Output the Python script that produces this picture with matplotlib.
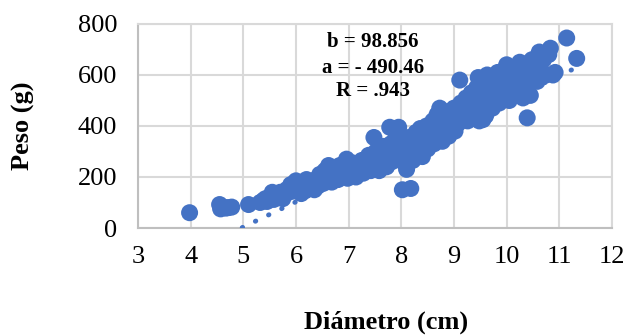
import matplotlib.pyplot as plt
import numpy as np

# diameter (cm) and weight (g)
diametro = [3.98, 4.55, 4.57, 4.62, 4.67, 4.72, 4.78, 5.10,
            5.32, 5.38, 5.42, 5.45, 5.50, 5.55, 5.58, 5.62, 5.66, 5.70, 5.74, 5.78,
            5.82, 5.86, 5.90, 5.95, 5.98, 6.02, 6.05, 6.08, 6.12, 6.15, 6.18, 6.22,
            6.25, 6.30, 6.34, 6.38, 6.42, 6.46, 6.50, 6.52, 6.55, 6.58, 6.62, 6.65,
            6.68, 6.70, 6.73, 6.76, 6.80, 6.83, 6.86, 6.90, 6.93, 6.96, 6.98, 7.02,
            7.05, 7.08, 7.10, 7.14, 7.18, 7.22, 7.25, 7.28, 7.32, 7.35, 7.38, 7.42,
            7.45, 7.48, 7.50, 7.52, 7.55, 7.58, 7.60, 7.63, 7.66, 7.68, 7.72, 7.75,
            7.78, 7.80, 7.82, 7.85, 7.88, 7.92, 7.95, 7.97, 8.00, 8.02, 8.03, 8.06,
            8.08, 8.10, 8.12, 8.15, 8.18, 8.20, 8.22, 8.25, 8.28, 8.30, 8.33, 8.36,
            8.40, 8.42, 8.45, 8.48, 8.50, 8.53, 8.56, 8.60, 8.62, 8.65, 8.68, 8.70,
            8.73, 8.75, 8.78, 8.80, 8.83, 8.86, 8.90, 8.93, 8.96, 9.00, 9.02, 9.05,
            9.08, 9.11, 9.13, 9.16, 9.20, 9.23, 9.26, 9.30, 9.33, 9.36, 9.40, 9.43,
            9.46, 9.48, 9.50, 9.53, 9.56, 9.60, 9.63, 9.66, 9.70, 9.73, 9.76, 9.80,
            9.83, 9.86, 9.90, 9.93, 9.96, 10.00, 10.02, 10.05, 10.08, 10.12, 10.15,
            10.18, 10.22, 10.25, 10.28, 10.31, 10.34, 10.37, 10.39, 10.42, 10.45,
            10.48, 10.52, 10.55, 10.58, 10.62, 10.65, 10.70, 10.75, 10.80, 10.83,
            10.88, 10.92, 11.14, 11.33,
            5.55, 5.75, 5.90, 6.00, 6.10, 6.20, 6.35, 6.45, 9.55, 9.45]
peso = [60, 92, 75, 82, 78, 80, 82, 92,
        100, 108, 115, 104, 118, 125, 112, 130, 122, 140, 128, 135,
        150, 140, 155, 145, 162, 150, 172, 158, 165, 178, 148, 170,
        160, 182, 172, 190, 165, 185, 200, 175, 225, 190, 245, 210,
        180, 235, 200, 220, 190, 245, 205, 230, 215, 270, 195, 240,
        210, 255, 225, 200, 245, 230, 265, 215, 250, 235, 285, 225,
        270, 355, 240, 300, 260, 225, 285, 250, 320, 270, 240, 300,
        395, 330, 260, 290, 345, 275, 395, 310, 360, 150, 260, 300,
        330, 230, 280, 355, 155, 310, 265, 340, 375, 295, 320, 390,
        280, 350, 330, 400, 310, 370, 345, 420, 330, 385, 445, 360,
        470, 400, 340, 420, 380, 455, 360, 430, 400, 470, 380, 440,
        410, 580, 490, 430, 460, 510, 420, 475, 530, 445, 500, 550,
        590, 420, 470, 520, 560, 440, 600, 500, 545, 470, 580, 520,
        610, 490, 560, 530, 620, 640, 545, 500, 590, 560, 615,
        520, 580, 650, 545, 510, 600, 630, 432, 570, 520,
        660, 600, 640, 575, 690, 620, 660, 600, 680, 705,
        600, 610, 745, 665,
        140, 115, 170, 185, 135, 190, 150, 210, 425, 440]

# linear fit shown on the chart
b = 98.856
a = -490.46

plt.rcParams['font.family'] = ['Liberation Serif', 'DejaVu Serif']

fig = plt.figure(figsize=(6.26, 3.35), dpi=100)
ax = fig.add_axes([0.2204, 0.3194, 0.7572, 0.609])

ax.scatter(diametro, peso, s=150, color='#4472C4', edgecolors='none', zorder=3)

xs = np.array([min(diametro), max(diametro)])
ax.plot(xs, b * xs + a, color='#4472C4', lw=3.5, linestyle=(0, (0.1, 2.9)),
        dash_capstyle='round', zorder=4)

ax.set_xlim(3, 12)
ax.set_ylim(0, 800)
ax.set_xticks(range(3, 13))
ax.set_yticks(range(0, 801, 200))
ax.grid(True, color='#d9d9d9', lw=1.5, zorder=0)
ax.set_axisbelow(True)
for side in ['top', 'right']:
    ax.spines[side].set_color('#d9d9d9')
    ax.spines[side].set_linewidth(1.5)
for side in ['left', 'bottom']:
    ax.spines[side].set_color('#bfbfbf')
    ax.spines[side].set_linewidth(1.5)
ax.tick_params(length=0, labelsize=19)
ax.tick_params(axis='x', pad=13)
ax.tick_params(axis='y', pad=15)

ax.text(7.46, 729, 'b = 98.856', ha='center', va='center', fontsize=15, fontweight='bold')
ax.text(7.46, 627, 'a = - 490.46', ha='center', va='center', fontsize=15, fontweight='bold')
ax.text(7.46, 537, 'R = .943', ha='center', va='center', fontsize=15, fontweight='bold')

fig.text(386 / 626, 1 - 322 / 335, 'Diámetro (cm)', ha='center', va='center',
         fontsize=19, fontweight='bold')
fig.text(23 / 626, 1 - 126 / 335, 'Peso (g)', ha='center', va='center',
         rotation=90, fontsize=19, fontweight='bold')

fig.savefig('out.png', dpi=100)
